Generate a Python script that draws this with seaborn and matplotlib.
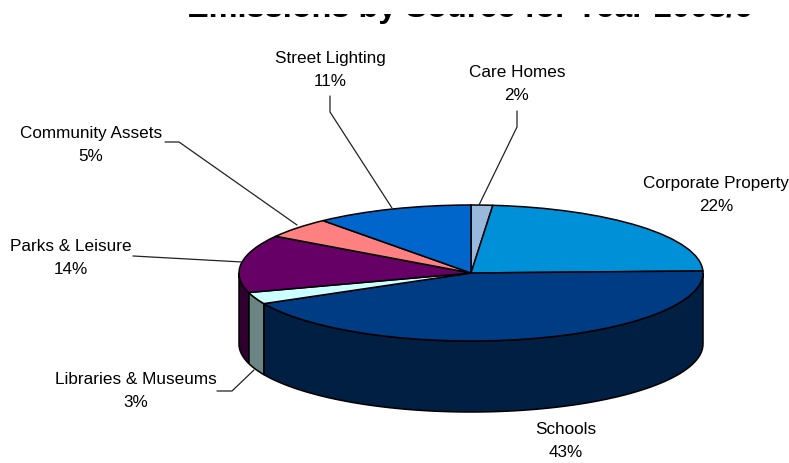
import numpy as np
import matplotlib
matplotlib.use('Agg')
import matplotlib.pyplot as plt
from matplotlib.patches import Rectangle
import seaborn as sns

# values
sources = ['Care Homes', 'Corporate Property', 'Schools', 'Libraries & Museums',
           'Parks & Leisure', 'Community Assets', 'Street Lighting']
percent_labels = [2, 22, 43, 3, 14, 5, 11]
# slice sizes as they appear in the drawing (the tilt stretches them a little)
shares = [1.5, 23.0, 43.0, 2.8, 13.7, 4.9, 11.0]
top_colors = ['#99B8DC', '#0090D8', '#003C84', '#CCFFFF', '#660066', '#FF8080', '#0066CC']
side_colors = ['#5F7389', '#005A87', '#001F42', '#6B8585', '#2F002F', '#7F4040', '#003366']

sns.set_theme(style='white')
plt.rcParams['font.family'] = ['Liberation Sans', 'DejaVu Sans']

W, H = 789, 464
fig = plt.figure(figsize=(W / 100, H / 100), dpi=100)

# pie axes, sized so the unit circle becomes the flattened ellipse
cx, cy, rx, ry, depth = 471, 274, 232, 68, 71
ax = fig.add_axes([(cx - rx) / W, 1 - (cy + ry) / H, 2 * rx / W, 2 * ry / H])
ax.pie(shares, colors=top_colors, startangle=90, counterclock=False, radius=1,
       wedgeprops={'edgecolor': 'black', 'linewidth': 1.1, 'clip_on': False, 'zorder': 5})
ax.set_aspect('auto')
ax.set_xlim(-1, 1)
ax.set_ylim(-1, 1)

# side wall of the front half of the pie
d = depth / ry
ends = np.cumsum(shares) / np.sum(shares) * 360
starts = np.concatenate([[0], ends[:-1]])
for a0, a1, c in zip(starts, ends, side_colors):
    a0, a1 = max(a0, 90), min(a1, 270)
    if a1 <= a0:
        continue
    t = np.radians(np.linspace(a0, a1, 80))
    x, y = np.sin(t), np.cos(t)
    ax.fill(np.r_[x, x[::-1]], np.r_[y, y[::-1] - d], facecolor=c, edgecolor='black',
            linewidth=1.1, clip_on=False, zorder=3)

# overlay in pixel coordinates for text and leader lines
ov = fig.add_axes([0, 0, 1, 1], facecolor='none')
ov.set_xlim(0, W)
ov.set_ylim(H, 0)
ov.axis('off')

leaders = [
    ([517, 517, 479], [112, 128, 206]),
    ([330, 330, 392], [97, 113, 209]),
    ([165, 179, 297], [143, 143, 226]),
    ([133, 242], [257, 263]),
    ([217, 232, 254], [392, 392, 371]),
]
for xs, ys in leaders:
    ov.plot(xs, ys, color='#222222', lw=0.9, clip_on=False)

label_pos = {
    'Care Homes': (517, 84),
    'Corporate Property': (716, 195),
    'Schools': (566, 441),
    'Libraries & Museums': (136, 391),
    'Parks & Leisure': (71, 258),
    'Community Assets': (91, 145),
    'Street Lighting': (330, 70),
}
for name, pct in zip(sources, percent_labels):
    x, y = label_pos[name]
    ov.text(x, y, f'{name}\n{pct}%', ha='center', va='center', fontsize=12.3,
            linespacing=1.68, color='black')

# only the bottom sliver of the title survives in the reference, the rest is masked
ov.text(470, 17.5, 'Emissions by Source for Year 2008/9', ha='center', va='baseline',
        fontsize=23.4, fontweight='bold', color='black', zorder=4)
ov.add_patch(Rectangle((0, 0), W, 14.5, facecolor='white', edgecolor='none', zorder=6))

fig.savefig('out.png', dpi=100)
